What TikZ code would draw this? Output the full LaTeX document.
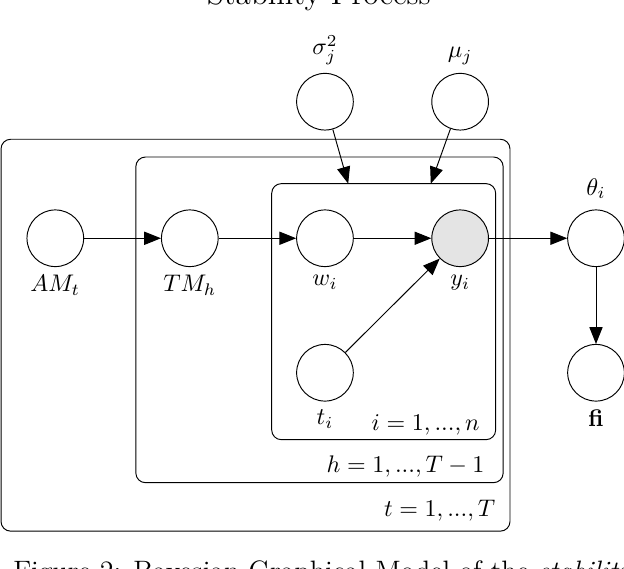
\documentclass[tikz,border=0pt]{standalone}
\usepackage{amsmath, amssymb}
\usepackage{xcolor}
\usepackage{tikz}
\usetikzlibrary{positioning, arrows.meta, fit}
\definecolor{obsgray}{RGB}{228,228,228}

\begin{document}
\begin{tikzpicture}[
  var/.style={draw, circle, minimum size=0.83cm, inner sep=0pt},
  obs/.style={var, fill=obsgray},
  lbl/.style={inner sep=3.3pt},
  plate/.style={draw, rounded corners=4pt, inner sep=0pt},
  >={Triangle[length=7pt, width=5.5pt]}]
\useasboundingbox (0,0) rectangle (9.14,-8.32);
% heading and caption, cut by the page edge
\node[anchor=base] (ttl) at (4.67,-0.06) {\fontsize{13}{15}\selectfont Stability Process};
\node[anchor=base west] (cap) at (0.07,-8.51) {\fontsize{11.7}{14}\selectfont Figure 2: Bayesian Graphical Model of the \textit{stability}};
% plates
\node[plate, fit={(0.015,-2.04) (7.47,-7.78)}] (pt) {};
\node[plate, fit={(1.99,-2.30) (7.37,-7.07)}] (ph) {};
\node[plate, fit={(3.98,-2.69) (7.26,-6.44)}] (pi) {};
\node[anchor=base east] (lt) at (7.38,-7.57) {$t=1,...,T$};
\node[anchor=base east] (lh) at (7.22,-6.92) {$h=1,...,T-1$};
\node[anchor=base east] (li) at (7.15,-6.31) {$i=1,...,n$};
% variables
\node[var] (am) at (0.81,-3.49) {};
\node[var] (tm) at (2.78,-3.49) {};
\node[var] (w) at (4.76,-3.49) {};
\node[obs] (y) at (6.74,-3.49) {};
\node[var] (t) at (4.76,-5.46) {};
\node[var] (th) at (8.73,-3.49) {};
\node[var] (fi) at (8.73,-5.46) {};
\node[var] (sig) at (4.76,-1.49) {};
\node[var] (mu) at (6.74,-1.49) {};
\node[lbl, below=0pt of am] (lam) {$AM_t$};
\node[lbl, below=0pt of tm] (ltm) {$TM_h$};
\node[lbl, below=0pt of w] (lw) {$w_i$};
\node[lbl, below=0pt of y] (ly) {$y_i$};
\node[lbl, below=0pt of t] (ltt) {$t_i$};
\node[lbl, below=0pt of fi] (lfi) {\textbf{fi}};
\node[lbl, above=1pt of th] (lth) {$\theta_i$};
\node[lbl, above=0pt of sig] (lsig) {$\sigma_j^2$};
\node[lbl, above=0pt of mu] (lmu) {$\mu_j$};
\coordinate (sg) at (5.10,-2.69);
\coordinate (mg) at (6.31,-2.69);
% edges
\draw[->] (am) -- (tm);
\draw[->] (tm) -- (w);
\draw[->] (w) -- (y);
\draw[->] (t) -- (y);
\draw[->] (y) -- (th);
\draw[->] (th) -- (fi);
\draw[->] (sig) -- (sg);
\draw[->] (mu) -- (mg);
\end{tikzpicture}
\end{document}
